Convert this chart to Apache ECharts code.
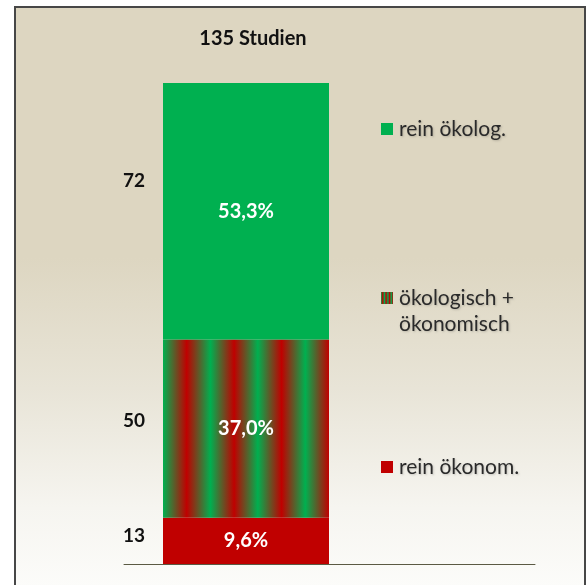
<!DOCTYPE html>
<html>
<head>
<meta charset="utf-8">
<script src="https://cdn.jsdelivr.net/npm/echarts@6/dist/echarts.min.js"></script>
<style>
  html, body { margin: 0; padding: 0; background: #ffffff; overflow: hidden; }
  #frame {
    position: absolute; left: 14px; top: 6px; width: 568px; height: 600px;
    border: 2px solid #474747; border-bottom: none;
    background: linear-gradient(to bottom, #DDD6C1 0px, #DDD6C1 250px, #E8E4D7 380px, #F6F5F0 500px, #FCFCFA 580px);
  }
  #chart { position: absolute; left: 0; top: 0; width: 587px; height: 585px; }
</style>
</head>
<body>
<div id="frame"></div>
<div id="chart"></div>
<script>
// Studies grouped by their focus, stacked from the bottom up
const categories = ['135 Studien'];
const seriesNames = ['rein ökonom.', 'ökologisch + ökonomisch', 'rein ökolog.'];
const counts = [13, 50, 72];

const GREEN = '#00B050';
const RED = '#C00000';
const FONT = 'Lato, "Open Sans", sans-serif';

const total = counts.reduce((a, b) => a + b, 0);

// alternating red/green vertical bands for the mixed category
const stripeStops = [];
for (let i = 0; i <= 7; i++) {
  stripeStops.push({ offset: i / 7, color: i % 2 === 0 ? GREEN : RED });
}
const stripes = new echarts.graphic.LinearGradient(0, 0, 1, 0, stripeStops);

const fills = [RED, stripes, GREEN];
// vertical nudge of the count label relative to the middle of its segment
const countOffsetY = [-5, -8, -30];

const pct = v => (v / total * 100).toFixed(1).replace('.', ',') + '%';

let base = 0;
const series = counts.map((v, i) => {
  const mid = base + v / 2;
  base += v;
  return {
    name: seriesNames[i],
    type: 'bar',
    stack: 'all',
    xAxisIndex: 0,
    yAxisIndex: 0,
    barWidth: 166,
    data: [v],
    itemStyle: { color: fills[i] },
    label: {
      show: true,
      position: 'inside',
      formatter: p => pct(p.value),
      color: '#ffffff',
      fontFamily: FONT,
      fontWeight: 'bold',
      fontSize: 20
    },
    markPoint: {
      silent: true,
      symbol: 'rect',
      symbolSize: 0,
      data: [{ coord: [0, mid], value: v }],
      label: {
        show: true,
        position: 'inside',
        offset: [-112, countOffsetY[i]],
        formatter: '{c}',
        color: '#111111',
        fontFamily: FONT,
        fontWeight: 'bold',
        fontSize: 19
      }
    }
  };
});

const legendText = {
  fontFamily: FONT,
  fontSize: 21,
  color: '#2a2a2a',
  textShadowColor: 'rgba(0,0,0,0.18)',
  textShadowBlur: 2,
  textShadowOffsetX: 1,
  textShadowOffsetY: 1
};

function legendFor(name, top, icon, itemHeight, lineHeight) {
  return {
    left: 381,
    top: top,
    orient: 'vertical',
    selectedMode: false,
    itemWidth: 12,
    itemHeight: itemHeight,
    itemGap: 0,
    padding: 0,
    icon: icon,
    data: [name],
    formatter: n => n.replace(' + ', ' +\n'),
    textStyle: Object.assign({ lineHeight: lineHeight, padding: [0, 0, 0, 1] }, legendText)
  };
}

const chart = echarts.init(document.getElementById('chart'), null, { renderer: 'canvas' });
chart.setOption({
  backgroundColor: 'transparent',
  animation: false,
  title: {
    text: categories[0],
    left: 248,
    top: 24,
    textAlign: 'center',
    textStyle: { fontFamily: FONT, fontWeight: 'bold', fontSize: 20, color: '#111111' }
  },
  legend: [
    legendFor(seriesNames[2], 117, 'rect', 12, 24),
    legendFor(seriesNames[1], 285, 'path://M0 0H12V12H0Z M0 38L0 38', 38, 26),
    legendFor(seriesNames[0], 455, 'rect', 12, 24)
  ],
  grid: [
    { left: 124, top: 83, width: 244, bottom: 21 },
    { left: 124, top: 83, right: 52, bottom: 21 }
  ],
  xAxis: [
    { type: 'category', gridIndex: 0, data: categories, show: false },
    {
      type: 'value', gridIndex: 1, min: 0, max: 1,
      axisLine: { show: true, lineStyle: { color: '#5B5A44', width: 1 } },
      axisTick: { show: false }, axisLabel: { show: false }, splitLine: { show: false }
    }
  ],
  yAxis: [
    { type: 'value', gridIndex: 0, min: 0, max: total, show: false },
    { type: 'value', gridIndex: 1, min: 0, max: 1, show: false }
  ],
  series: series
});
</script>
</body>
</html>
